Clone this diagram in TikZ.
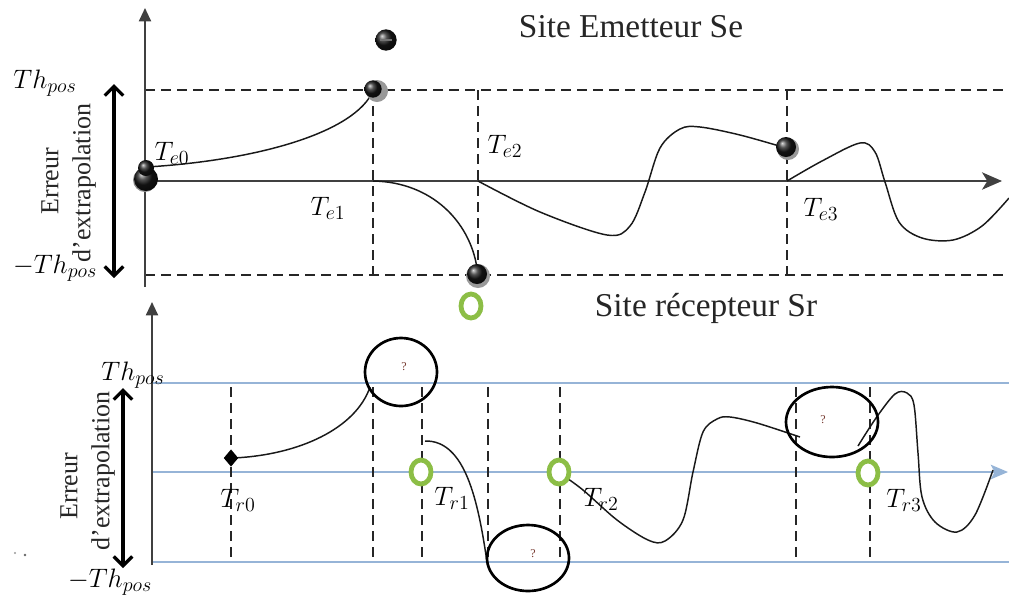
\RequirePackage{fix-cm}
\documentclass[tikz,border=0pt]{standalone}
\usepackage{fontspec}
\setmainfont{Liberation Serif}
\usetikzlibrary{arrows.meta,shapes.geometric}
\DeclareMathSizes{20}{20}{15}{11}
\definecolor{bl}{RGB}{150,180,215}
\definecolor{gr}{RGB}{140,190,70}
\definecolor{qm}{RGB}{120,60,50}
\begin{document}
\begin{tikzpicture}[x=0.75pt,y=-0.75pt,
  dsh/.style={dash pattern=on 7.5pt off 4.5pt, line width=1.1pt, black!85},
  crv/.style={line width=1.1pt, black!90},
  axl/.style={line width=1.5pt, black!75},
  bln/.style={draw=bl, line width=1.1pt},
  gO/.style={draw=gr, fill=white, ellipse, line width=3.6pt, minimum width=15pt, minimum height=18pt, inner sep=0pt},
  lab/.style={font=\fontsize{20}{22}\selectfont, text=black, inner sep=0pt},
  ttl/.style={font=\fontsize{25}{28}\selectfont, text=black!85},
  rot/.style={font=\fontsize{19.5}{22}\selectfont, rotate=90, text=black!85},
  ell/.style={line width=2pt},
  qmk/.style={font=\fontsize{9}{10}\selectfont, text=qm},
  dblarr/.style={line width=2.4pt, {Straight Barb[length=7pt,width=14pt]}-{Straight Barb[length=7pt,width=14pt]}},
  ball/.style={circle, inner sep=0pt, minimum size=#1, ball color=black!90, draw=none}
]
\useasboundingbox (0,0) rectangle (1009,594);

%% ================= TOP PANEL =================
\node[ttl] (t1) at (631,27) {Site Emetteur Se};
% dashed thresholds
\coordinate (tpL) at (145,90); \coordinate (tpR) at (1009,90);
\coordinate (tnL) at (145,275); \coordinate (tnR) at (1009,275);
\draw[dsh] (tpL) -- (tpR);
\draw[dsh] (tnL) -- (tnR);
% axes
\coordinate (vA0) at (145,287); \coordinate (vA1) at (145,8);
\coordinate (hA0) at (145,181); \coordinate (hA1) at (1002,181);
\draw[axl, -{Triangle[length=10pt,width=9pt]}] (vA0) -- (vA1);
\draw[axl, -{Stealth[length=15pt,width=13pt,inset=4pt]}] (hA0) -- (hA1);
% dashed verticals
\foreach \x/\n in {373/a,478/b,787/c}{
  \coordinate (tv\n0) at (\x,90); \coordinate (tv\n1) at (\x,275);
  \draw[dsh] (tv\n0) -- (tv\n1);
}
% double arrow + labels
\coordinate (da0) at (114,84); \coordinate (da1) at (114,278);
\draw[dblarr] (da0) -- (da1);
\node[rot] (er1) at (50,181) {Erreur};
\node[rot] (ex1) at (84,183) {d’extrapolation};
\node[lab] (th1) at (45,83) {$Th_{pos}$};
\node[lab] (mth1) at (55,268) {$-Th_{pos}$};
% curves
\draw[crv] (147,167) .. controls (260,160) and (355,132) .. (373,91);
\draw[crv] (373,181) .. controls (432,182) and (470,222) .. (477,268);
\draw[crv] plot[smooth, tension=0.55] coordinates {(478,181) (540,212) (607,235) (630,226) (645,192) (660,148) (680,129) (700,127) (740,135) (786,148)};
\draw[crv] plot[smooth, tension=0.55] coordinates {(787,181) (822,161) (860,143) (875,152) (885,182) (899,222) (922,238) (953,240) (982,226) (1009,198)};
% balls
\fill[black!45] (145,180) circle[radius=12];
\node[ball=18pt] (b0) at (146,179) {};
\node[ball=12pt] (b0b) at (146,168) {};
\fill[black!40] (377,91) circle[radius=11];
\node[ball=13pt] (b1) at (373,89) {};
\node[ball=16pt] (b1t) at (386,40) {};
\draw[black!55, line width=1pt] (380,40) -- (392,40);
\fill[black!40] (478,276) circle[radius=12];
\node[ball=15pt] (b2) at (477,274) {};
\fill[black!40] (788,149) circle[radius=11];
\node[ball=15pt] (b3) at (786,147) {};
% labels
\node[lab] (te0) at (172,153) {$T_{e0}$};
\node[lab] (te1) at (328,208) {$T_{e1}$};
\node[lab] (te2) at (505,146) {$T_{e2}$};
\node[lab] (te3) at (821,209) {$T_{e3}$};

%% ================= BOTTOM PANEL =================
\node[ttl] (t2) at (706,308) {Site récepteur Sr};
\node[gO] (o0) at (471,306) {};
% blue lines
\coordinate (bpL) at (152,383); \coordinate (bpR) at (1009,383);
\coordinate (bmL) at (152,472); \coordinate (bmR) at (1008,472);
\coordinate (bnL) at (152,562); \coordinate (bnR) at (1009,562);
\draw[bln] (bpL) -- (bpR);
\draw[bln] (bnL) -- (bnR);
\draw[bln, -{Stealth[length=13pt,width=11pt,inset=3pt]}, bl] (bmL) -- (bmR);
% vertical axis
\coordinate (vB0) at (152,565); \coordinate (vB1) at (152,302);
\draw[axl, -{Triangle[length=10pt,width=9pt]}] (vB0) -- (vB1);
% dashed verticals
\foreach \x/\n in {231/a,373/b,422/c,488/d,560/e,796/f,870/g}{
  \coordinate (bv\n0) at (\x,387); \coordinate (bv\n1) at (\x,562);
  \draw[dsh] (bv\n0) -- (bv\n1);
}
% double arrow + labels
\coordinate (db0) at (123,388); \coordinate (db1) at (123,568);
\draw[dblarr] (db0) -- (db1);
\node[rot] (er2) at (69,486) {Erreur};
\node[rot] (ex2) at (103,471) {d’extrapolation};
\node[lab] (th2) at (133,375) {$Th_{pos}$};
\node[lab] (mth2) at (110,582) {$-Th_{pos}$};
\fill[black!40] (15,553) circle[radius=1.2];
\fill[black!60] (25,555) circle[radius=1.4];
% curves
\draw[crv] (233,458) .. controls (300,455) and (356,428) .. (370,387);
\draw[crv] (425,441) .. controls (465,440) and (478,500) .. (487,562);
\draw[crv] plot[smooth, tension=0.55] coordinates {(561,474) (583,490) (617,520) (648,540) (665,541) (683,520) (693,472) (703,432) (717,419) (730,417) (757,423) (800,437)};
\draw[crv] plot[smooth, tension=0.55] coordinates {(858,446) (876,418) (895,394) (907,393) (914,405) (918,453) (922,497) (935,522) (957,532) (975,515) (993,470)};
% question ellipses
\draw[ell] (401,372) ellipse[x radius=36, y radius=34];
\node[qmk] (q1) at (404,367) {?};
\draw[ell] (528,558) ellipse[x radius=41, y radius=33];
\node[qmk] (q2) at (533,554) {?};
\draw[ell] (832,422) ellipse[x radius=46, y radius=35];
\node[qmk] (q3) at (823,420) {?};
% diamond
\node[diamond, fill=black, inner sep=0pt, minimum width=11pt, minimum height=13pt] (dm) at (231,458) {};
% green markers
\node[gO] (o1) at (421,472) {};
\node[gO] (o2) at (559,472) {};
\node[gO] (o3) at (868,473) {};
% labels
\node[lab] (tr0) at (238,500) {$T_{r0}$};
\node[lab] (tr1) at (452,498) {$T_{r1}$};
\node[lab] (tr2) at (601,499) {$T_{r2}$};
\node[lab] (tr3) at (904,500) {$T_{r3}$};
\end{tikzpicture}
\end{document}
